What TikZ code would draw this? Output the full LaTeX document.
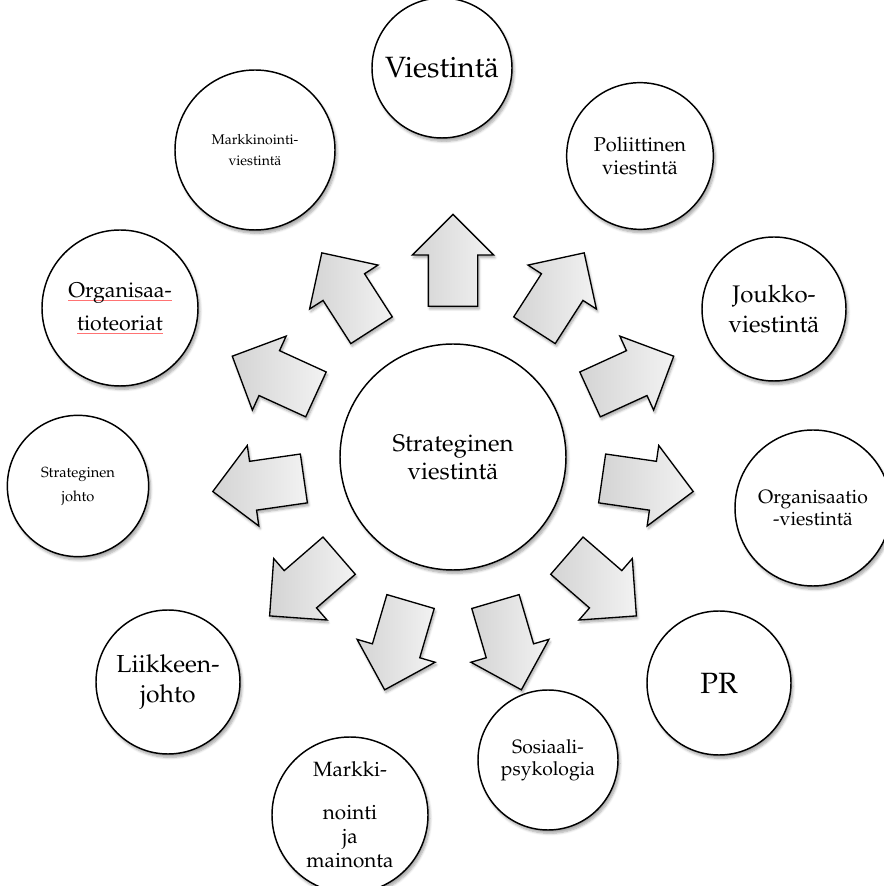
\documentclass[tikz,border=0pt]{standalone}
\usepackage[T1]{fontenc}
\usepackage{mathpazo}
\usetikzlibrary{shapes.arrows,shadows.blur}
\newcommand\redul[1]{\setbox0=\hbox{#1}\rlap{\color{red!55}\rule[-2.4pt]{\wd0}{0.45pt}}\box0}
\newcommand\fs[2]{\fontsize{#1}{#2}\selectfont}

\begin{document}
\begin{tikzpicture}[x=0.75pt,y=0.75pt,
  circ/.style={circle,draw,line width=1.1pt,fill=white,minimum size=#1,inner sep=0pt,align=center,
    blur shadow={shadow xshift=1.5pt,shadow yshift=-2.5pt,shadow blur steps=6,shadow opacity=35}},
  circ/.default=117pt,
  blkarr/.style={single arrow,draw,line width=1pt,inner xsep=0pt,inner ysep=18pt,
    single arrow head extend=12pt,minimum height=69pt,left color=gray!34,right color=gray!10,
    blur shadow={shadow xshift=1pt,shadow yshift=-2pt,shadow blur steps=5,shadow opacity=35}}]
\useasboundingbox (0,0) rectangle (883,886);
% centre
\node[circ=169.5pt,font=\fs{18}{21}] (ctr) at (453,429) {Strateginen\\viestintä};
% arrows
\foreach \k in {0,...,10}{
  \pgfmathsetmacro\ang{90-\k*360/11}
  \path (ctr) ++(\ang:150) node[blkarr,rotate=\ang,anchor=tail] (arr\k) {};
}
% outer circles
\node[circ=105pt,font=\fs{22}{26}] (viest) at (442,818) {Viestintä};
\node[circ=110pt,font=\fs{15}{17.5}] (pol) at (640,730) {Poliittinen\\viestintä};
\node[circ=108pt,font=\fs{18}{22.5}] (jouk) at (774,577) {Joukko-\\viestintä};
\node[circ,font=\fs{14.5}{16.5}] (orgv) at (813,378) {Organisaatio\\-viestintä};
\node[circ=108pt,font=\fs{22}{26}] (pr) at (719,203) {PR};
\node[circ=105pt,font=\fs{14.5}{16.5}] (sos) at (548,126) {Sosiaali-\\psykologia};
\node[circ,font=\fs{15.5}{18}] (mark) at (350,71) {Markki-\\[14pt]nointi\\ja\\mainonta};
\node[circ=108pt,font=\fs{18.5}{23}] (liik) at (168,204) {Liikkeen-\\johto};
\node[circ=106pt,font=\fs{11}{18}] (strj) at (78,400) {Strateginen\\johto};
\node[circ,font=\fs{16}{25}] (orgt) at (120,578) {\redul{Organisaa-}\\\redul{tioteoriat}};
\node[circ=120pt,font=\fs{10.5}{16}] (markv) at (255,736) {Markkinointi-\\viestintä};
\end{tikzpicture}
\end{document}
